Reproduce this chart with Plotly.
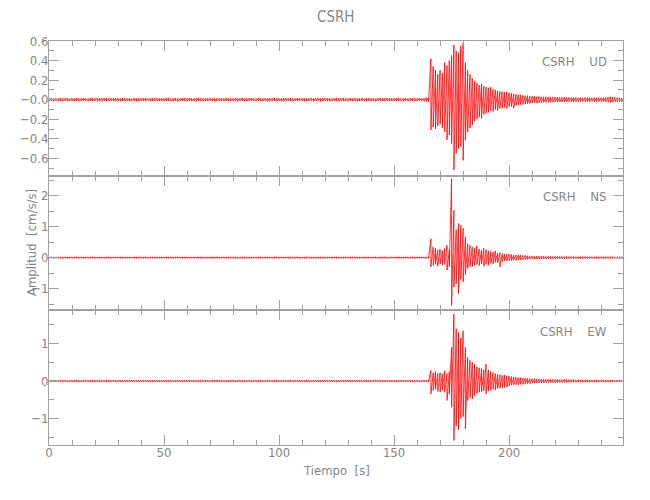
import plotly.graph_objects as go

# one max/min pair per second of record, t = 0 ... 250 s
T = list(range(0, 251))

# ---- UD component (cm/s/s) ----
UD_HI = [
    .015, .018, .012, .016, .014, .019, .013, .015, .017, .012, .016, .014, .018, .015, .013,
    .017, .016, .012, .015, .019, .014, .016, .013, .017, .015, .018, .012, .016, .014, .015,
    .017, .013, .016, .018, .014, .015, .012, .017, .016, .014, .015, .016, .019, .013, .014,
    .016, .018, .015, .012, .017, .014, .016, .019, .013, .015, .017, .014, .012, .016, .018,
    .014, .015, .017, .013, .016, .020, .014, .015, .012, .016, .018, .013, .015, .017, .014,
    .016, .013, .018, .015, .014, .017, .012, .016, .015, .019, .013, .014, .016, .018, .015,
    .012, .017, .015, .014, .016, .013, .018, .015, .017, .014, .016, .012, .015, .019, .014,
    .016, .015, .013, .017, .018, .014, .016, .012, .015, .017, .013, .016, .018, .014, .015,
    .017, .014, .016, .013, .015, .018, .016, .014, .019, .013, .015, .017, .012, .016, .014,
    .015, .018, .013, .016, .014, .017, .015, .012, .016, .018, .014, .015, .017, .013, .016,
    .014, .016, .019, .015, .013, .017, .014, .016, .015, .018, .012, .016, .015, .017, .020,
    .02, .42, .34, .30, .26, .30, .27, .38, .35, .40, .45, .56, .50, .48, .55, .58,
    .38, .30, .26, .22, .19, .17, .15, .16, .14, .13, .12, .13, .11, .10, .09, .085,
    .08, .075, .08, .07, .065, .06, .055, .05, .05, .045, .04, .04, .035, .035, .035, .03,
    .032, .030, .029, .030, .027, .028, .026, .025, .027, .024, .025, .023, .022, .024, .021, .020,
    .022, .021, .020, .019, .022, .020, .021, .018, .020, .019, .021, .020, .018, .022, .024, .028,
    .026, .022, .021, .020, .019, .020]
UD_LO = [
    -.014, -.016, -.017, -.013, -.018, -.015, -.016, -.012, -.017, -.015, -.014, -.018, -.013, -.016, -.017,
    -.012, -.015, -.018, -.014, -.016, -.013, -.017, -.015, -.019, -.014, -.016, -.015, -.013, -.017, -.016,
    -.014, -.018, -.015, -.013, -.016, -.017, -.014, -.015, -.018, -.016, -.013, -.015, -.017, -.012, -.016,
    -.015, -.013, -.017, -.016, -.014, -.018, -.015, -.012, -.016, -.017, -.014, -.019, -.015, -.013, -.016,
    -.017, -.014, -.016, -.015, -.018, -.013, -.016, -.017, -.014, -.015, -.012, -.016, -.018, -.015, -.014,
    -.016, -.018, -.013, -.015, -.017, -.014, -.016, -.019, -.015, -.013, -.017, -.016, -.014, -.012, -.016,
    -.015, -.013, -.017, -.016, -.014, -.018, -.015, -.016, -.013, -.017, -.015, -.018, -.014, -.016, -.013,
    -.017, -.016, -.014, -.015, -.012, -.016, -.018, -.015, -.014, -.016, -.017, -.013, -.015, -.019, -.016,
    -.014, -.015, -.017, -.016, -.013, -.015, -.018, -.014, -.016, -.015, -.017, -.013, -.016, -.014, -.018,
    -.016, -.014, -.015, -.017, -.013, -.016, -.015, -.018, -.014, -.016, -.013, -.017, -.015, -.016, -.014,
    -.015, -.017, -.014, -.016, -.018, -.013, -.015, -.016, -.014, -.017, -.015, -.013, -.016, -.018, -.020,
    -.02, -.31, -.28, -.30, -.27, -.25, -.29, -.33, -.41, -.36, -.45, -.72, -.55, -.50, -.48, -.62,
    -.41, -.33, -.29, -.26, -.22, -.20, -.18, -.19, -.15, -.14, -.13, -.11, -.12, -.10, -.11, -.09,
    -.085, -.08, -.09, -.07, -.07, -.085, -.06, -.055, -.05, -.05, -.045, -.04, -.04, -.035, -.03, -.035,
    -.030, -.031, -.028, -.027, -.029, -.025, -.026, -.024, -.025, -.023, -.024, -.022, -.023, -.021, -.022, -.020,
    -.021, -.022, -.019, -.020, -.021, -.019, -.020, -.018, -.021, -.019, -.020, -.018, -.019, -.021, -.025, -.029,
    -.024, -.021, -.020, -.019, -.020, -.019]

# ---- NS component (cm/s/s) ----
NS_HI = [
    .020, .025, .018, .022, .027, .020, .019, .024, .021, .026, .018, .022, .025, .020, .023,
    .019, .026, .021, .020, .024, .022, .018, .025, .021, .023, .020, .027, .019, .022, .024,
    .020, .021, .025, .018, .023, .022, .020, .026, .021, .019, .024, .022, .025, .020, .018,
    .023, .021, .026, .019, .022, .024, .020, .018, .025, .021, .023, .027, .020, .022, .019,
    .024, .020, .022, .025, .018, .021, .026, .023, .019, .022, .020, .024, .021, .025, .018,
    .022, .026, .020, .019, .023, .021, .025, .018, .022, .024, .020, .027, .021, .019, .023,
    .020, .024, .022, .018, .025, .021, .023, .020, .026, .019, .022, .024, .020, .021, .025,
    .018, .023, .021, .026, .020, .022, .019, .024, .021, .025, .018, .022, .027, .020, .023,
    .021, .019, .024, .022, .020, .025, .018, .023, .021, .026, .020, .022, .019, .024, .021,
    .025, .020, .022, .018, .024, .021, .023, .026, .019, .022, .020, .025, .021, .018, .023,
    .022, .020, .026, .021, .019, .024, .022, .020, .025, .018, .023, .021, .024, .020, .022,
    .02, .61, .35, .30, .25, .28, .22, .30, .40, .25, 2.55, 1.53, .90, 1.10, 1.05, .95,
    .67, .45, .40, .35, .30, .38, .28, .24, .30, .26, .22, .20, .18, .22, .15, .16,
    .13, .12, .11, .12, .10, .09, .09, .08, .08, .07, .07, .06, .06, .05, .05, .05,
    .050, .045, .048, .044, .042, .045, .040, .041, .038, .040, .037, .036, .038, .035, .034, .036,
    .033, .032, .034, .031, .032, .030, .033, .031, .030, .032, .030, .029, .031, .030, .034, .032,
    .030, .029, .031, .030, .029, .030]
NS_LO = [
    -.022, -.019, -.024, -.021, -.020, -.026, -.022, -.018, -.025, -.021, -.023, -.020, -.019, -.027, -.021,
    -.024, -.020, -.022, -.025, -.018, -.023, -.021, -.020, -.026, -.019, -.022, -.024, -.021, -.020, -.018,
    -.025, -.022, -.019, -.023, -.021, -.026, -.020, -.022, -.024, -.019, -.021, -.023, -.020, -.025, -.022,
    -.018, -.024, -.021, -.020, -.023, -.019, -.025, -.022, -.020, -.027, -.021, -.018, -.024, -.022, -.020,
    -.023, -.021, -.019, -.025, -.022, -.020, -.024, -.018, -.023, -.021, -.026, -.020, -.022, -.019, -.024,
    -.021, -.025, -.022, -.020, -.018, -.024, -.021, -.023, -.020, -.026, -.019, -.022, -.025, -.021, -.020,
    -.022, -.019, -.024, -.021, -.023, -.020, -.018, -.025, -.022, -.021, -.024, -.019, -.023, -.020, -.026,
    -.020, -.023, -.021, -.019, -.025, -.022, -.024, -.020, -.018, -.023, -.021, -.026, -.020, -.022, -.019,
    -.024, -.021, -.020, -.026, -.019, -.022, -.023, -.021, -.025, -.018, -.022, -.020, -.024, -.021, -.023,
    -.019, -.022, -.025, -.020, -.021, -.023, -.018, -.024, -.022, -.020, -.025, -.019, -.021, -.023, -.020,
    -.023, -.020, -.022, -.024, -.021, -.019, -.025, -.022, -.020, -.023, -.021, -.018, -.024, -.022, -.020,
    -.02, -.30, -.25, -.22, -.28, -.20, -.24, -.22, -.40, -.30, -1.54, -.95, -.84, -1.16, -.70, -.78,
    -.55, -.35, -.30, -.28, -.25, -.22, -.26, -.20, -.28, -.22, -.25, -.18, -.20, -.15, -.17, -.30,
    -.12, -.10, -.10, -.09, -.09, -.08, -.09, -.07, -.07, -.07, -.06, -.06, -.05, -.05, -.05, -.045,
    -.048, -.046, -.043, -.045, -.041, -.040, -.042, -.038, -.039, -.036, -.038, -.035, -.034, -.036, -.033, -.034,
    -.032, -.033, -.031, -.032, -.030, -.031, -.032, -.029, -.030, -.031, -.029, -.030, -.028, -.030, -.031, -.033,
    -.030, -.029, -.030, -.028, -.029, -.030]

# ---- EW component (cm/s/s) ----
EW_HI = [
    .022, .020, .025, .019, .023, .021, .026, .020, .018, .024, .022, .021, .025, .019, .020,
    .023, .022, .026, .019, .021, .024, .020, .022, .018, .025, .021, .023, .020, .026, .019,
    .022, .024, .021, .020, .023, .025, .019, .022, .021, .024, .020, .023, .018, .022, .025,
    .020, .021, .024, .019, .023, .026, .020, .022, .025, .018, .021, .023, .020, .024, .022,
    .019, .025, .021, .023, .020, .022, .026, .018, .024, .021, .020, .023, .025, .019, .022,
    .024, .020, .022, .019, .025, .021, .023, .020, .026, .022, .018, .024, .021, .020, .023,
    .021, .023, .020, .025, .019, .022, .024, .021, .020, .026, .022, .019, .023, .021, .025,
    .020, .022, .026, .021, .018, .023, .020, .025, .022, .019, .024, .021, .023, .020, .022,
    .025, .019, .022, .024, .021, .020, .023, .018, .022, .025, .021, .024, .020, .022, .019,
    .023, .021, .020, .025, .022, .019, .024, .021, .026, .020, .022, .023, .019, .021, .024,
    .020, .022, .025, .021, .019, .023, .022, .020, .024, .021, .023, .019, .022, .025, .020,
    .02, .28, .22, .25, .20, .22, .19, .28, .20, .25, .90, 1.79, 1.40, 1.30, 1.15, 1.34,
    .90, .63, .55, .50, .45, .38, .35, .33, .30, .45, .30, .25, .23, .20, .18, .17,
    .15, .16, .14, .13, .12, .11, .10, .09, .09, .08, .08, .07, .065, .06, .055, .05,
    .052, .050, .048, .049, .046, .045, .046, .043, .044, .041, .040, .042, .038, .039, .036, .037,
    .034, .035, .033, .032, .031, .032, .030, .029, .030, .028, .029, .027, .028, .026, .027, .026,
    .025, .027, .025, .026, .024, .025]
EW_LO = [
    -.021, -.024, -.019, -.022, -.026, -.020, -.023, -.021, -.025, -.019, -.022, -.024, -.020, -.023, -.026,
    -.021, -.019, -.022, -.025, -.020, -.023, -.021, -.024, -.022, -.019, -.025, -.021, -.023, -.020, -.024,
    -.022, -.019, -.026, -.021, -.023, -.020, -.024, -.022, -.021, -.025, -.020, -.022, -.019, -.024, -.021,
    -.023, -.020, -.022, -.025, -.021, -.019, -.024, -.022, -.020, -.026, -.021, -.023, -.019, -.022, -.025,
    -.020, -.024, -.021, -.023, -.019, -.022, -.025, -.020, -.023, -.021, -.024, -.019, -.022, -.026, -.021,
    -.023, -.021, -.019, -.024, -.022, -.020, -.025, -.021, -.023, -.019, -.022, -.024, -.020, -.025, -.021,
    -.022, -.025, -.020, -.021, -.024, -.019, -.023, -.022, -.020, -.024, -.021, -.026, -.019, -.022, -.023,
    -.021, -.023, -.019, -.022, -.025, -.020, -.024, -.021, -.023, -.020, -.022, -.019, -.025, -.021, -.024,
    -.020, -.022, -.024, -.021, -.019, -.023, -.025, -.020, -.022, -.024, -.021, -.023, -.019, -.022, -.020,
    -.024, -.021, -.023, -.020, -.025, -.022, -.019, -.023, -.021, -.024, -.020, -.022, -.025, -.019, -.023,
    -.021, -.023, -.020, -.024, -.022, -.019, -.025, -.021, -.023, -.020, -.022, -.024, -.021, -.020, -.022,
    -.02, -.35, -.25, -.22, -.28, -.30, -.25, -.30, -.52, -.35, -.70, -1.59, -1.20, -1.30, -1.00, -.95,
    -1.28, -.52, -.45, -.48, -.39, -.33, -.30, -.28, -.26, -.35, -.27, -.25, -.22, -.24, -.20, -.19,
    -.18, -.17, -.16, -.13, -.11, -.10, -.10, -.10, -.09, -.09, -.08, -.07, -.07, -.06, -.06, -.05,
    -.050, -.047, -.049, -.045, -.046, -.042, -.044, -.041, -.043, -.039, -.040, -.038, -.036, -.038, -.034, -.035,
    -.033, -.034, -.031, -.032, -.030, -.031, -.029, -.028, -.030, -.027, -.028, -.026, -.027, -.025, -.026, -.025,
    -.024, -.026, -.024, -.025, -.023, -.025]

STATION = "CSRH"
COMPONENTS = ["UD", "NS", "EW"]
UD_TICKS = [-0.6, -0.4, -0.2, 0.0, 0.2, 0.4, 0.6]
UD_TICKTEXT = ["\u22120.6", "\u22120.4", "\u22120.2", "\u22120.0", "0.2", "0.4", "0.6"]
NS_TICKS = [-1, 0, 1, 2]
NS_TICKTEXT = ["\u22121", "0", "1", "2"]
EW_TICKS = [-1, 0, 1]
EW_TICKTEXT = ["\u22121", "0", "1"]
X_TICKS = [0, 50, 100, 150, 200]


def zigzag(t, hi, lo):
    xs, ys = [], []
    for ti, h, l in zip(t, hi, lo):
        xs += [ti, ti]
        ys += [h, l]
    return xs, ys


GRAY = "#a0a0a0"
TXT = "#858585"
FONT = "Liberation Sans Narrow, DejaVu Sans Condensed, Liberation Sans, sans-serif"
RED = "#ff0000"

fig = go.Figure()
for (hi, lo, xa, ya) in [(UD_HI, UD_LO, "x3", "y3"), (NS_HI, NS_LO, "x2", "y2"), (EW_HI, EW_LO, "x", "y")]:
    xs, ys = zigzag(T, hi, lo)
    fig.add_trace(go.Scatter(x=xs, y=ys, mode="lines", xaxis=xa, yaxis=ya,
                             line=dict(color=RED, width=0.8), hoverinfo="skip", showlegend=False))

xcommon = dict(range=[0, 249.5], showline=True, linecolor=GRAY, linewidth=1, mirror="ticks",
               ticks="inside", ticklen=10, tickcolor=GRAY, tickwidth=1,
               tickvals=X_TICKS, showgrid=False, zeroline=False, ticklabelstandoff=-5,
               minor=dict(dtick=10, tick0=0, ticks="inside", ticklen=5, tickcolor=GRAY, showgrid=False),
               tickfont=dict(family=FONT, size=13, color=TXT))
ycommon = dict(showline=True, linecolor=GRAY, linewidth=1, mirror="ticks",
               ticks="inside", ticklen=10, tickcolor=GRAY, tickwidth=1,
               showgrid=False, zeroline=False, ticklabelstandoff=-3,
               tickfont=dict(family=FONT, size=13, color=TXT))

fig.update_layout(
    width=642, height=492,
    margin=dict(l=39, r=27, t=33, b=55),
    paper_bgcolor="white", plot_bgcolor="white",
    showlegend=False, hovermode=False,
    xaxis=dict(xcommon, anchor="y", ticktext=[str(v) for v in X_TICKS]),
    xaxis2=dict(xcommon, anchor="y2", matches="x", showticklabels=False),
    xaxis3=dict(xcommon, anchor="y3", matches="x", showticklabels=False),
    yaxis=dict(ycommon, domain=[0, 1 / 3], range=[-1.71, 1.89], tickvals=EW_TICKS, ticktext=EW_TICKTEXT,
               minor=dict(dtick=0.5, tick0=0, ticks="inside", ticklen=5, tickcolor=GRAY, showgrid=False)),
    yaxis2=dict(ycommon, domain=[1 / 3, 2 / 3], range=[-1.70, 2.645], tickvals=NS_TICKS, ticktext=NS_TICKTEXT,
                minor=dict(dtick=0.5, tick0=0, ticks="inside", ticklen=5, tickcolor=GRAY, showgrid=False)),
    yaxis3=dict(ycommon, domain=[2 / 3, 1], range=[-0.777, 0.6], tickvals=UD_TICKS, ticktext=UD_TICKTEXT,
                minor=dict(dtick=0.1, tick0=0, ticks="inside", ticklen=5, tickcolor=GRAY, showgrid=False)),
)

annos = [
    dict(text=STATION, x=0.5, y=1 + (41 - 17) / 404, xref="paper", yref="paper", showarrow=False,
         yanchor="middle", font=dict(family=FONT, size=15, color=TXT)),
    dict(text="Tiempo\u00a0\u00a0[s]", x=0.5, y=-(470 - 445) / 404, xref="paper", yref="paper", showarrow=False,
         font=dict(family=FONT, size=13, color=TXT), yanchor="middle"),
    dict(text="Amplitud\u00a0\u00a0[cm/s/s]", x=-(47 - 29) / 576, y=0.5, xref="paper", yref="paper",
         showarrow=False, textangle=-90, font=dict(family=FONT, size=13, color=TXT),
         xanchor="center", yanchor="middle"),
]
for comp, yp in zip(COMPONENTS, [0.949, 0.616, 0.2804]):
    annos.append(dict(text=STATION + "\u00a0\u00a0\u00a0\u00a0" + comp, x=(609 - 47) / 576, y=yp,
                      xref="paper", yref="paper", showarrow=False, xanchor="right", yanchor="middle",
                      font=dict(family=FONT, size=13, color=TXT)))
fig.update_layout(annotations=annos)

fig.write_html("out.html")
